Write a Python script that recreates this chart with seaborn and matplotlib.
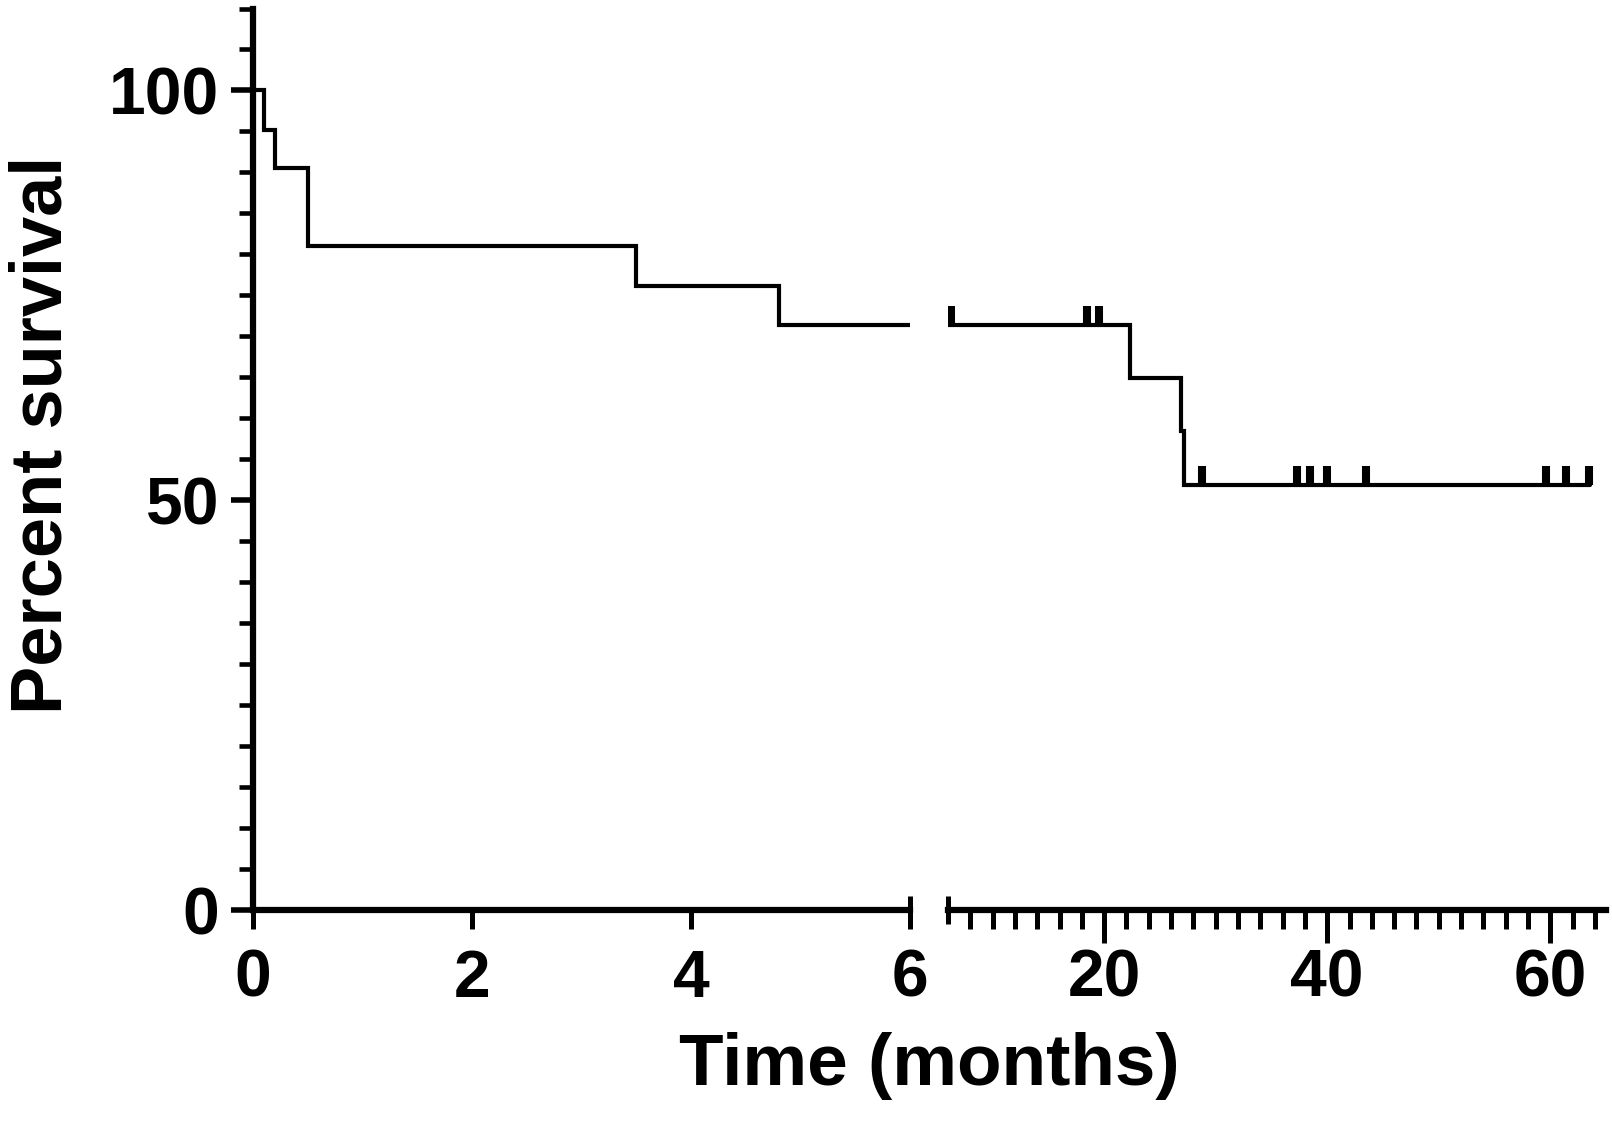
import numpy as np
import matplotlib
matplotlib.use("Agg")
import matplotlib.pyplot as plt
from matplotlib.ticker import FixedLocator, MultipleLocator
import seaborn as sns

# ===========
# DATA
# ===========

# Kaplan-Meier step points (time in months, percent survival)
step_times = [0, 0.1, 0.2, 0.5, 3.5, 4.8, 22.3, 26.9, 27.2, 63.6]
step_surv = [100, 95.2, 90.5, 81.0, 76.2, 71.4, 64.9, 58.4, 51.9, 51.9]

# censored observations
censor_times = [6.25, 18.45, 19.55, 28.8, 37.3, 38.5, 40.0, 43.5, 59.6, 61.4, 63.5]

left_ticks = [0, 2, 4, 6]
right_ticks = [20, 40, 60]
y_ticks = [0, 50, 100]


def surv_at(t):
    '''survival level of the step curve at time t'''
    idx = np.searchsorted(step_times, t, side='right') - 1
    return step_surv[idx]


censor_surv = [surv_at(t) for t in censor_times]

# ===========
# STYLE
# ===========

sns.set_style('ticks')
plt.rcParams['font.family'] = ['Liberation Sans', 'DejaVu Sans']
plt.rcParams['font.weight'] = 'bold'
for key in ('text.color', 'axes.edgecolor', 'axes.labelcolor', 'xtick.color', 'ytick.color'):
    plt.rcParams[key] = 'black'

fig = plt.figure(figsize=(16.12, 11.34), dpi=100)
ax1 = fig.add_axes([0.1569, 0.1975, 0.4076, 0.795])
ax2 = fig.add_axes([0.5881, 0.1975, 0.4082, 0.795])

spine_w = 4.5
tick_font = 47.5

for ax in (ax1, ax2):
    sns.lineplot(x=step_times, y=step_surv, drawstyle='steps-post', color='black',
                 lw=3.0, ax=ax, legend=False, solid_joinstyle='miter')
    ax.plot(censor_times, censor_surv, linestyle='none', marker=2, ms=14, mew=5.8,
            color='black')
    ax.set_ylim(0, 110)
    ax.set_facecolor('none')
    for side in ('top', 'right'):
        ax.spines[side].set_visible(False)
    ax.spines['bottom'].set_linewidth(spine_w)
    ax.spines['left'].set_linewidth(spine_w)
    ax.set_xlabel('')
    ax.set_ylabel('')

# left segment: 0 - 6 months
ax1.set_xlim(0, 6)
ax1.set_xticks(left_ticks)
ax1.set_yticks(y_ticks)
ax1.yaxis.set_minor_locator(MultipleLocator(5))
ax1.tick_params(axis='x', which='major', length=14, width=3.6, pad=14,
                labelsize=tick_font)
ax1.tick_params(axis='y', which='major', length=16, width=4, pad=8,
                labelsize=tick_font)
ax1.tick_params(axis='y', which='minor', length=10, width=3.3)
ax1.plot([6], [0], marker='|', ms=20, mew=3.6, color='black', clip_on=False)

# right segment: 6 - 65 months
ax2.set_xlim(6, 65)
ax2.set_xticks(right_ticks)
ax2.xaxis.set_minor_locator(FixedLocator(np.arange(8, 65, 2)))
ax2.spines['left'].set_visible(False)
ax2.tick_params(axis='y', which='both', left=False, labelleft=False)
ax2.tick_params(axis='x', which='major', length=23.8, width=3.6, pad=4.2,
                labelsize=tick_font)
ax2.tick_params(axis='x', which='minor', length=14, width=3.6)
ax2.plot([6], [0], marker='|', ms=20, mew=3.6, color='black', clip_on=False)

# axis titles
fig.text(929.5 / 1612, 1 - 1085 / 1134, 'Time (months)', ha='center', va='baseline',
         fontsize=52.5, fontweight='bold')
fig.text(62 / 1612, 1 - 435 / 1134, 'Percent survival', rotation=90, ha='center',
         va='baseline', rotation_mode='anchor', fontsize=52, fontweight='bold')

fig.savefig('out.png', dpi=100)
